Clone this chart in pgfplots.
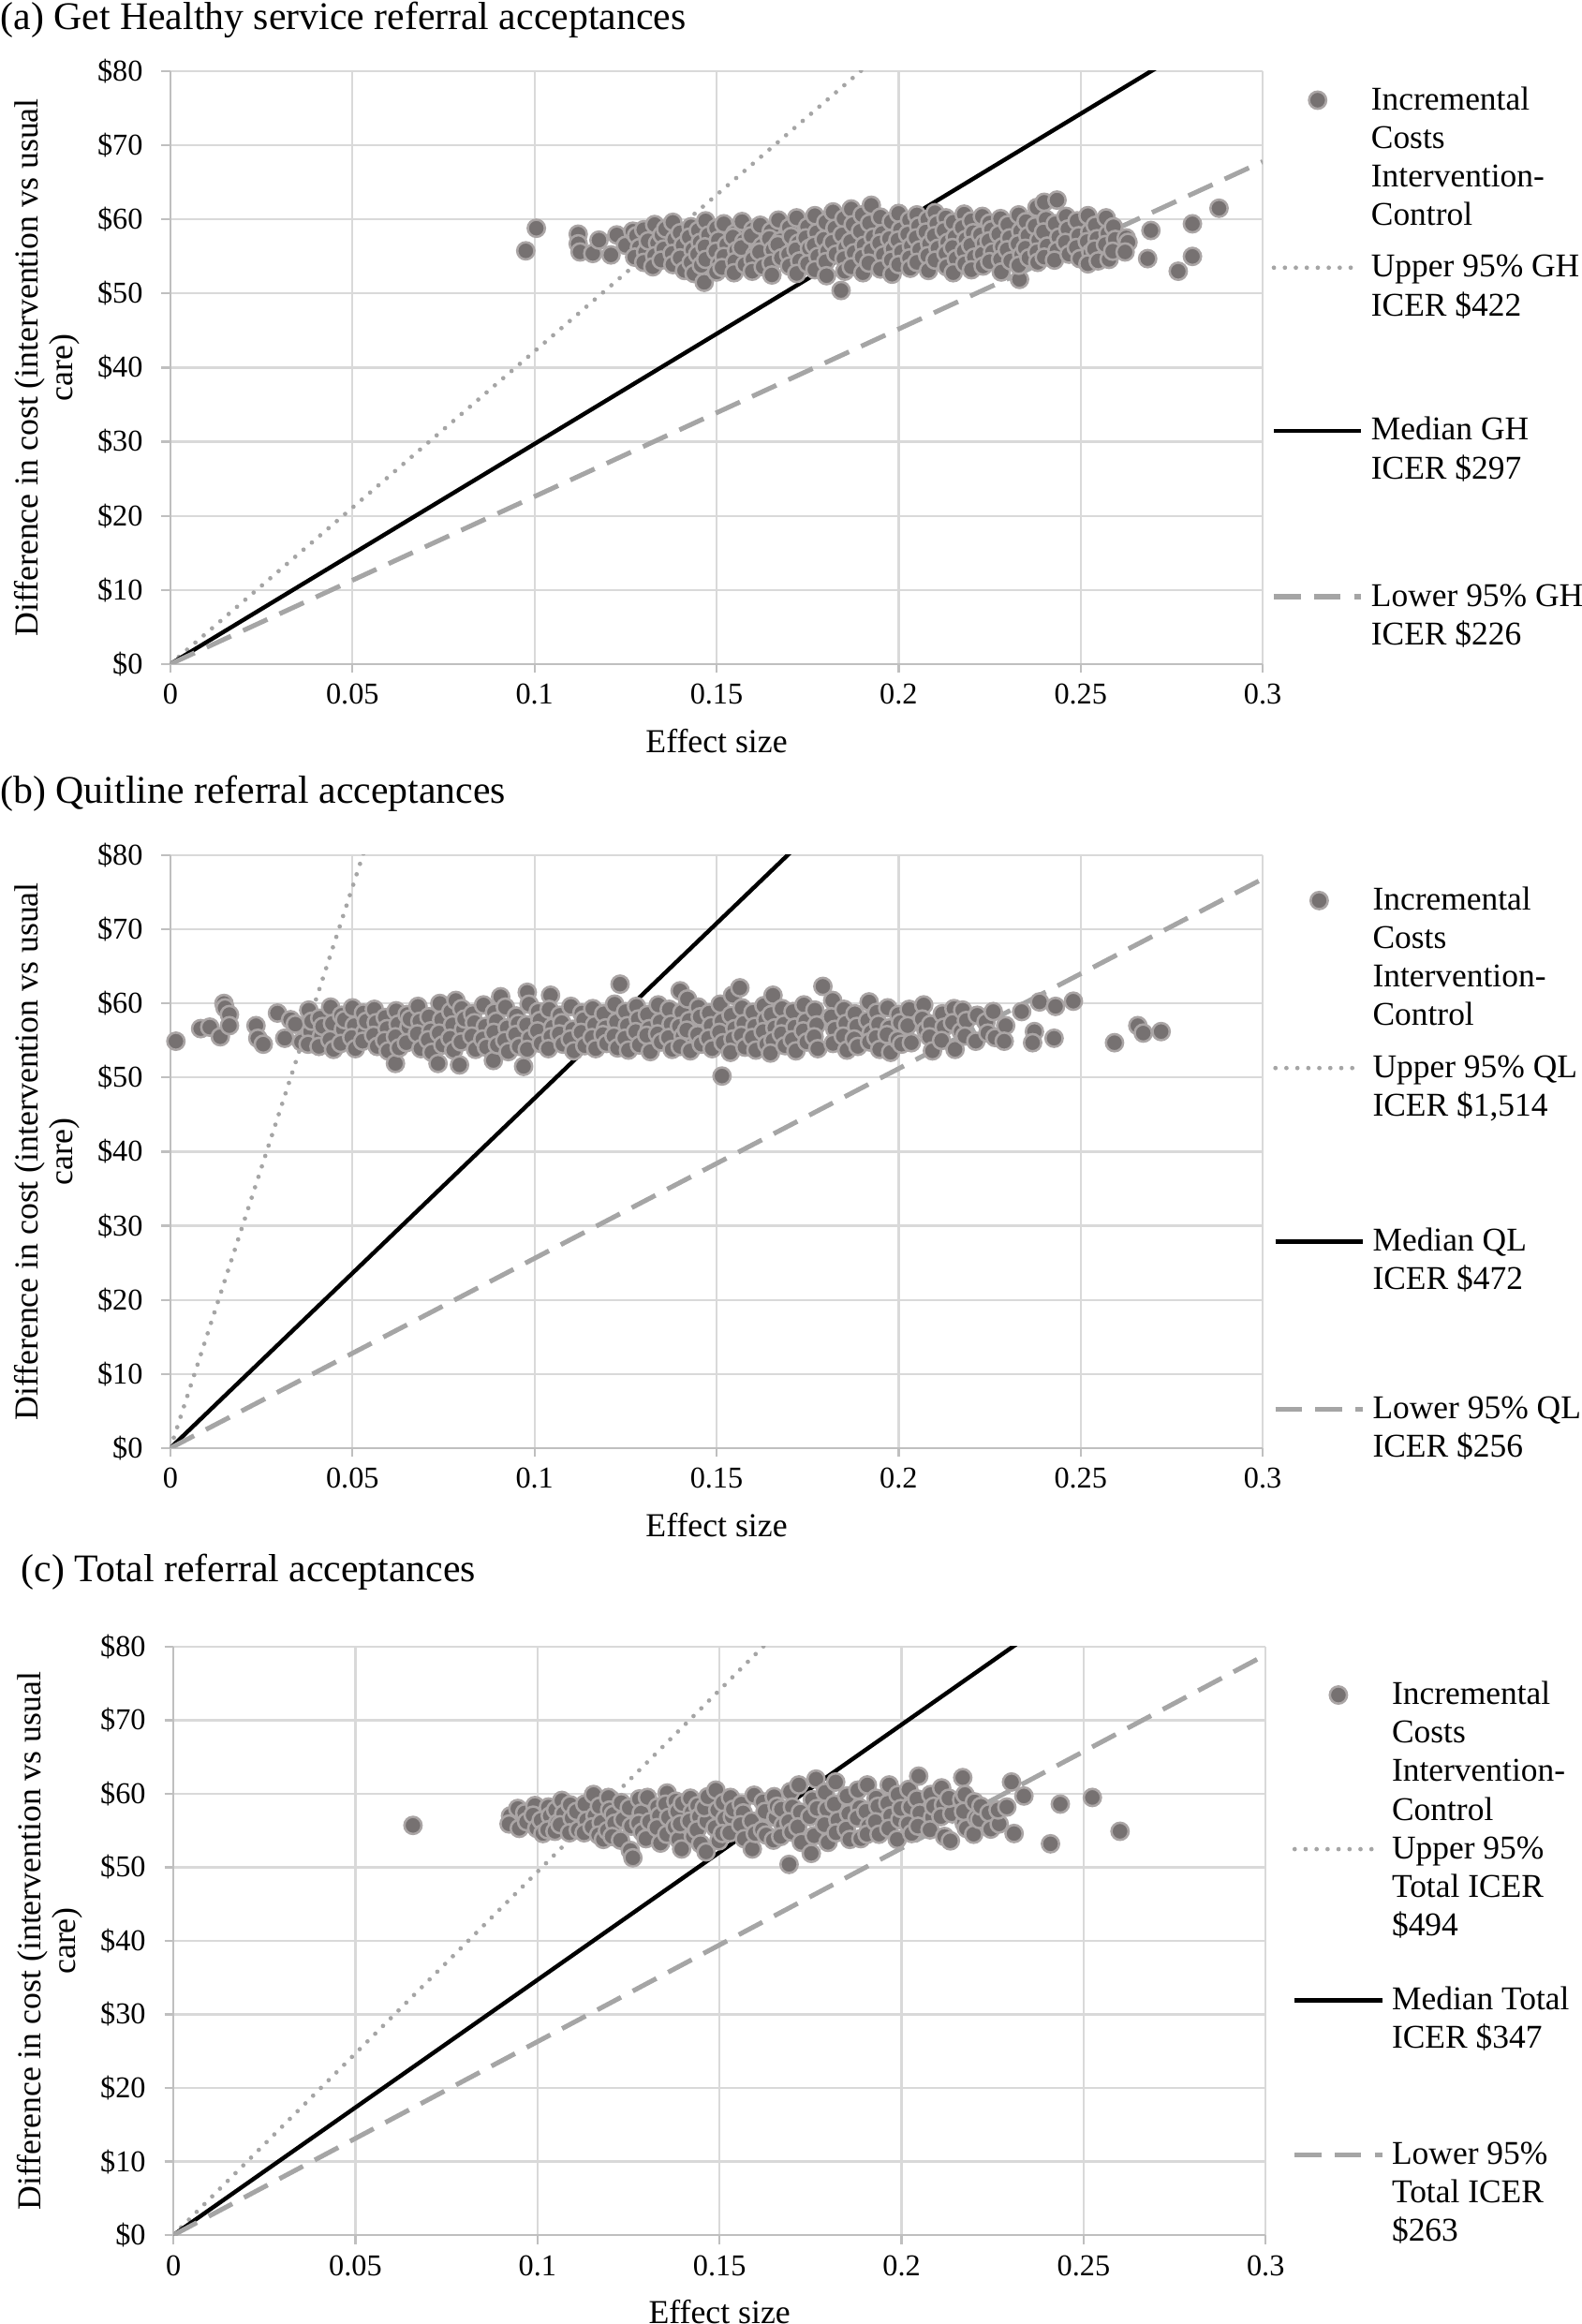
\documentclass[border=0pt]{standalone}
\usepackage{fontspec}
\setmainfont{Liberation Serif}
\usepackage{pgfplots}
\pgfplotsset{compat=1.18}

\definecolor{markfill}{RGB}{118,113,113}
\definecolor{markedge}{RGB}{170,165,165}
\definecolor{linegray}{RGB}{165,165,165}
\definecolor{gridgray}{RGB}{217,217,217}
\definecolor{axisgray}{RGB}{191,191,191}

% legend text block: lines split by \\, #2 = depth below the last line
\newcommand{\lgd}[2]{\begin{tabular}[t]{@{}l@{}}#1\rule[-#2]{0pt}{#2}\end{tabular}}

\pgfplotsset{
  icer/.style={
    scale only axis, width=368.5pt, height=200pt,
    xmin=0, xmax=0.3, ymin=0, ymax=80,
    axis x line*=bottom, axis y line*=left,
    axis line style={-, draw=axisgray, line width=0.7pt},
    tick align=outside, major tick length=3pt,
    tick style={draw=axisgray, line width=0.7pt},
    grid=major, grid style={draw=gridgray, line width=0.7pt},
    xtick={0,0.05,0.1,0.15,0.2,0.25,0.3},
    xticklabels={0,0.05,0.1,0.15,0.2,0.25,0.3},
    ytick={0,10,20,30,40,50,60,70,80},
    yticklabels={\$0,\$10,\$20,\$30,\$40,\$50,\$60,\$70,\$80},
    tick label style={font=\fontsize{10.2}{12}\selectfont},
    xticklabel style={yshift=-0.3pt},
    yticklabel style={xshift=-2.8pt},
    xlabel={Effect size},
    ylabel={Difference in cost (intervention vs usual\\care)},
    label style={font=\fontsize{11.3}{11.5}\selectfont},
    xlabel style={at={(axis description cs:0.5,-0.13)}, anchor=center},
    ylabel style={at={(axis description cs:-0.113,0.5)}, anchor=center, align=center},
    legend cell align=left,
    legend style={draw=none, fill=none, inner sep=0pt, outer sep=0pt,
      row sep=0pt, column sep=2.5pt, font=\fontsize{11.2}{13}\selectfont,
      nodes={inner sep=0pt, text depth=}, cells={anchor=base west}},
    legend image code/.code={\draw[mark repeat=2,mark phase=2,#1] plot coordinates {(0pt,0pt) (14.75pt,0pt) (29.5pt,0pt)};},
    legend image post style={yshift=3.2pt},
  },
  cloud/.style={only marks, mark=*, mark size=2.9pt,
    mark options={fill=markfill, draw=markedge, line width=0.8pt}},
  upper/.style={draw=linegray, line width=1.5pt, line cap=round, dash pattern=on 0pt off 3.7pt, no marks},
  median/.style={draw=black, line width=1.4pt, no marks},
  lower/.style={draw=linegray, line width=1.6pt, dash pattern=on 9pt off 4.5pt, no marks},
}

\begin{document}
\begin{tikzpicture}
\useasboundingbox (0pt,0pt) rectangle (533.5pt,-784pt);

% ---------------- (a) ----------------
\node[anchor=base west, inner sep=0pt, font=\fontsize{13.2}{15}\selectfont] at (0pt,-10pt) {(a) Get Healthy service referral acceptances};
\begin{axis}[icer, at={(57.5pt,-224pt)}, anchor=south west,
  legend style={at={(1.0081,0.9805)}, anchor=north west}]
\addplot[cloud] coordinates {
(0.0976,55.75) (0.1005,58.8) (0.112,58.0) (0.112,56.7) (0.1125,55.6) (0.116,55.4) (0.1177,57.2) (0.121,55.2) (0.1226,57.9) (0.125,56.5) (0.127,58.4)
(0.128,57.8) (0.1288,56.2) (0.1275,54.9)
(0.130,58.6) (0.1305,55.6) (0.1312,57.1) (0.130,54.2)
(0.133,59.3) (0.1338,56.8) (0.133,55.1) (0.1325,53.6)
(0.135,57.9) (0.1355,56.0) (0.1348,54.5) (0.136,58.7)
(0.138,59.6) (0.1385,57.3) (0.1378,55.4) (0.138,53.9)
(0.140,58.2) (0.1408,56.5) (0.140,54.8) (0.1412,53.1)
(0.143,59.0) (0.1425,57.6) (0.1435,55.9) (0.143,54.2) (0.1438,52.7)
(0.145,58.5) (0.1455,56.9) (0.1448,55.3) (0.1458,53.8)
(0.147,59.8) (0.1478,57.9) (0.1468,56.3) (0.147,54.6) (0.1466,51.5)
(0.150,58.8) (0.1505,57.2) (0.1498,55.7) (0.1508,54.0) (0.150,52.9)
(0.152,59.4) (0.1528,56.6) (0.152,55.0) (0.1515,53.5)
(0.155,58.1) (0.1545,57.6) (0.1555,55.8) (0.155,54.3) (0.1548,52.8)
(0.157,59.7) (0.1575,57.0) (0.1568,56.2) (0.1578,53.9)
(0.160,58.6) (0.1595,57.8) (0.1605,55.2) (0.160,54.6) (0.1598,53.0)
(0.162,59.2) (0.1625,56.4) (0.1618,55.6) (0.1628,53.6)
(0.165,58.4) (0.1645,57.4) (0.1655,55.9) (0.165,54.1) (0.1652,52.5)
(0.167,59.9) (0.1675,57.1) (0.1668,56.6) (0.1678,54.8)
(0.170,58.9) (0.1705,57.7) (0.1698,55.3) (0.170,53.7)
(0.172,60.2) (0.1725,56.8) (0.1718,55.9) (0.1728,54.4) (0.172,52.7)
(0.175,59.0) (0.1745,57.5) (0.1755,56.1) (0.175,54.0)
(0.177,60.5) (0.1775,58.2) (0.1768,56.5) (0.1778,55.0) (0.177,53.2)
(0.180,59.6) (0.1795,57.3) (0.1805,55.7) (0.180,54.3) (0.1802,52.4)
(0.182,61.0) (0.1825,58.8) (0.1818,56.9) (0.1828,55.3)
(0.185,60.1) (0.1845,57.9) (0.1855,56.2) (0.185,54.7) (0.1852,53.0) (0.1842,50.4)
(0.187,61.4) (0.1875,59.3) (0.1868,57.0) (0.1878,55.5) (0.187,53.6)
(0.190,60.6) (0.1895,58.4) (0.1905,56.5) (0.190,54.9) (0.1902,52.8)
(0.1925,61.9) (0.192,59.5) (0.193,57.6) (0.1925,55.8) (0.1918,54.1)
(0.195,60.3) (0.1955,58.1) (0.1948,56.8) (0.1958,55.2) (0.195,53.3)
(0.198,59.7) (0.1975,57.4) (0.1985,56.0) (0.198,54.5) (0.1982,52.6)
(0.200,60.8) (0.2005,58.6) (0.1998,57.2) (0.2008,55.6) (0.200,53.9)
(0.203,59.9) (0.2025,58.0) (0.2035,56.4) (0.203,54.8) (0.2032,53.4)
(0.205,60.6) (0.2055,59.1) (0.2048,57.5) (0.2058,55.9) (0.205,54.2)
(0.208,60.0) (0.2075,58.3) (0.2085,56.7) (0.208,55.1) (0.2082,53.1)
(0.210,60.9) (0.2105,59.4) (0.2098,57.8) (0.2108,56.1) (0.210,54.5)
(0.213,60.2) (0.2125,58.5) (0.2135,56.9) (0.213,55.4) (0.2132,53.6)
(0.215,59.6) (0.2155,57.6) (0.2148,56.2) (0.2158,54.7) (0.215,52.8)
(0.218,60.7) (0.2175,58.9) (0.2185,57.3) (0.218,55.7) (0.2182,54.0)
(0.220,59.8) (0.2205,58.2) (0.2198,56.5) (0.2208,54.9) (0.220,53.2)
(0.223,60.4) (0.2225,57.9) (0.2235,56.8) (0.223,55.3) (0.2232,53.7)
(0.225,59.5) (0.2255,58.6) (0.2248,57.1) (0.2258,55.6) (0.225,54.3)
(0.228,60.1) (0.2275,58.0) (0.2285,56.3) (0.228,54.6) (0.2282,52.9)
(0.230,59.3) (0.2305,57.5) (0.2298,55.9) (0.2308,54.4) (0.2332,51.9)
(0.233,60.6) (0.2335,58.4) (0.2328,56.7) (0.2338,55.2) (0.233,53.8)
(0.235,59.7) (0.2355,57.8) (0.2348,56.1) (0.2358,54.8)
(0.238,61.6) (0.2375,59.1) (0.2385,57.2) (0.238,55.6) (0.2382,54.2)
(0.240,62.3) (0.2405,60.0) (0.2398,58.3) (0.2408,56.4) (0.240,54.9)
(0.2435,62.6) (0.243,59.4) (0.244,57.6) (0.2435,55.8) (0.2428,54.5)
(0.246,60.4) (0.2465,58.7) (0.2458,56.9) (0.2468,55.3)
(0.249,59.8) (0.2495,57.8) (0.2488,56.2) (0.2498,54.7)
(0.252,60.5) (0.2525,58.3) (0.2518,57.0) (0.2528,55.5) (0.252,54.0)
(0.254,59.2) (0.2545,57.4) (0.2538,56.0) (0.2548,54.4)
(0.257,60.2) (0.2575,58.1) (0.2568,56.6) (0.2578,54.6)
(0.259,59.0) (0.2595,57.3) (0.2588,55.7)
(0.2625,57.5) (0.263,56.9) (0.2622,55.6)
(0.2693,58.5) (0.2684,54.7) (0.2807,59.4) (0.2807,55.0) (0.2768,53.0) (0.288,61.5)
};
\addlegendentry{\lgd{Incremental\\Costs\\Intervention-\\Control}{8.4pt}}
\addplot[upper] coordinates {(0,0) (0.3,126.6)};
\addlegendentry{\lgd{Upper 95\% GH\\ICER \$422}{32.9pt}}
\addplot[median] coordinates {(0,0) (0.3,89.1)};
\addlegendentry{\lgd{Median GH\\ICER \$297}{33.9pt}}
\addplot[lower] coordinates {(0,0) (0.3,67.8)};
\addlegendentry{\lgd{Lower 95\% GH\\ICER \$226}{3.9pt}}
\end{axis}

% ---------------- (b) ----------------
\node[anchor=base west, inner sep=0pt, font=\fontsize{13.2}{15}\selectfont] at (0pt,-271pt) {(b) Quitline referral acceptances};
\begin{axis}[icer, at={(57.5pt,-488.5pt)}, anchor=south west,
  legend style={at={(1.0095,0.953)}, anchor=north west}]
\addplot[cloud] coordinates {
(0.0015,54.9) (0.0083,56.6) (0.0108,56.8) (0.0137,55.5) (0.0147,60.0) (0.015,59.4) (0.0162,58.5) (0.0162,57.0)
(0.0235,57.0) (0.024,55.3) (0.0255,54.5) (0.0294,58.7) (0.0314,55.3) (0.033,57.8) (0.0343,57.2) (0.036,54.8)
(0.038,59.1) (0.0385,56.2) (0.0378,54.5) (0.0388,57.6)
(0.041,58.0) (0.0415,55.6) (0.0408,54.2) (0.0418,56.9)
(0.044,59.5) (0.0445,57.3) (0.0438,55.1) (0.0448,53.8)
(0.047,58.4) (0.0475,56.5) (0.0468,54.6) (0.0478,57.8)
(0.050,59.4) (0.0505,57.0) (0.0498,55.4) (0.0508,53.9)
(0.053,58.7) (0.0535,56.2) (0.0528,54.9) (0.0538,57.6)
(0.056,59.2) (0.0565,57.4) (0.0558,55.7) (0.0568,54.2)
(0.059,58.1) (0.0595,56.6) (0.0588,55.0) (0.0598,53.6) (0.0618,51.9)
(0.062,59.0) (0.0625,57.2) (0.0618,55.5) (0.0628,54.0)
(0.065,58.5) (0.0655,56.8) (0.0648,54.7) (0.0658,57.9)
(0.068,59.6) (0.0685,57.6) (0.0678,55.9) (0.0688,53.9)
(0.071,58.2) (0.0715,56.3) (0.0708,55.1) (0.0718,53.4) (0.0735,51.9)
(0.074,60.0) (0.0745,57.8) (0.0738,56.0) (0.0748,54.4)
(0.077,58.9) (0.0775,57.1) (0.0768,55.3) (0.0778,53.7) (0.0784,60.4) (0.0794,51.7)
(0.080,59.3) (0.0805,56.5) (0.0798,54.8) (0.0808,57.9)
(0.083,58.6) (0.0835,57.4) (0.0828,55.6) (0.0838,53.8)
(0.086,59.8) (0.0865,56.9) (0.0858,55.2) (0.0868,54.1) (0.0887,52.3)
(0.089,58.8) (0.0895,57.6) (0.0888,56.1) (0.0898,54.4) (0.0907,60.9)
(0.092,59.5) (0.0925,56.7) (0.0918,55.0) (0.0928,53.5)
(0.095,58.3) (0.0955,57.3) (0.0948,55.8) (0.0958,54.2) (0.097,51.5)
(0.098,61.5) (0.0985,59.9) (0.0978,57.1) (0.0988,55.3) (0.098,53.8)
(0.101,58.9) (0.1015,57.7) (0.1008,56.3) (0.1018,54.6)
(0.1044,61.1) (0.104,59.2) (0.105,56.8) (0.1045,55.5) (0.1038,53.9)
(0.107,58.4) (0.1075,57.4) (0.1068,55.9) (0.1078,54.5)
(0.110,59.6) (0.1105,56.5) (0.1098,55.2) (0.1108,53.6)
(0.113,58.7) (0.1135,57.8) (0.1128,56.1) (0.1138,54.3)
(0.116,59.3) (0.1165,57.1) (0.1158,55.4) (0.1168,53.9)
(0.119,58.6) (0.1195,56.7) (0.1188,55.8) (0.1198,54.6)
(0.122,59.9) (0.1225,57.5) (0.1218,55.6) (0.1228,54.0) (0.1235,62.6)
(0.125,58.9) (0.1255,57.0) (0.1248,55.3) (0.1258,53.7)
(0.128,59.6) (0.1285,57.9) (0.1278,56.2) (0.1288,54.4)
(0.131,58.5) (0.1315,56.6) (0.1308,55.7) (0.1318,53.5)
(0.134,59.8) (0.1345,57.5) (0.1338,55.9) (0.1348,54.8)
(0.137,59.2) (0.1375,57.2) (0.1368,55.4) (0.1378,53.8)
(0.140,61.7) (0.1405,58.8) (0.1398,56.9) (0.1408,55.6) (0.140,54.2)
(0.142,60.6) (0.1425,57.7) (0.1418,56.4) (0.1428,53.6)
(0.145,59.5) (0.1455,58.2) (0.1448,55.8) (0.1458,54.5)
(0.148,58.7) (0.1485,57.0) (0.1478,55.3) (0.1488,53.9) (0.1515,50.2)
(0.151,59.9) (0.1515,57.6) (0.1508,56.1) (0.1518,54.7)
(0.1544,61.1) (0.154,58.4) (0.155,56.6) (0.1545,55.2) (0.1538,53.4) (0.1564,62.1)
(0.157,59.4) (0.1575,57.3) (0.1568,55.7) (0.1578,54.1)
(0.160,58.8) (0.1605,56.9) (0.1598,55.4) (0.1608,53.7)
(0.163,59.7) (0.1635,57.8) (0.1628,56.2) (0.1638,54.5)
(0.1655,61.1) (0.165,58.5) (0.166,56.7) (0.1655,55.0) (0.1648,53.3)
(0.168,59.3) (0.1685,57.2) (0.1678,55.9) (0.1688,54.3)
(0.171,58.9) (0.1715,56.8) (0.1708,55.1) (0.1718,53.6)
(0.174,59.8) (0.1745,57.6) (0.1738,56.3) (0.1748,54.8)
(0.177,59.1) (0.1775,57.1) (0.1768,55.5) (0.1778,53.9) (0.1792,62.3)
(0.1819,60.4) (0.1815,58.2) (0.1825,56.5) (0.182,54.6)
(0.185,59.2) (0.1855,57.3) (0.1848,55.6) (0.1858,53.7)
(0.188,58.6) (0.1885,56.9) (0.1878,55.2) (0.1888,54.2)
(0.1919,60.2) (0.1915,57.7) (0.1925,56.1) (0.192,54.8)
(0.194,58.8) (0.1945,57.2) (0.1938,55.4) (0.1948,53.8)
(0.197,59.4) (0.1975,56.7) (0.1968,55.8) (0.1978,53.4)
(0.200,58.5) (0.2005,57.4) (0.1998,55.1) (0.2008,54.5)
(0.2029,59.2) (0.2025,57.0) (0.2035,54.7)
(0.2069,59.8) (0.2065,57.9) (0.2075,56.4)
(0.2088,57.2) (0.2085,55.5) (0.2093,53.6)
(0.212,58.6) (0.2125,56.8) (0.2118,55.0)
(0.2152,59.3) (0.2148,57.4) (0.2155,53.8)
(0.2176,59.1) (0.2172,56.2) (0.2186,57.7) (0.2182,55.6)
(0.2216,58.4) (0.2212,54.9) (0.224,57.5) (0.2245,56.0)
(0.226,58.9) (0.2265,55.4) (0.2294,57.0) (0.229,54.9)
(0.2338,58.9) (0.2373,56.2) (0.2368,54.7) (0.2387,60.2) (0.2427,55.3) (0.2431,59.6) (0.248,60.3)
(0.2593,54.7) (0.2657,57.0) (0.2672,56.0) (0.2721,56.2)
};
\addlegendentry{\lgd{Incremental\\Costs\\Intervention-\\Control}{8.4pt}}
\addplot[upper] coordinates {(0,0) (0.3,454.2)};
\addlegendentry{\lgd{Upper 95\% QL\\ICER \$1,514}{36.4pt}}
\addplot[median] coordinates {(0,0) (0.3,141.6)};
\addlegendentry{\lgd{Median QL\\ICER \$472}{34.4pt}}
\addplot[lower] coordinates {(0,0) (0.3,76.8)};
\addlegendentry{\lgd{Lower 95\% QL\\ICER \$256}{3.9pt}}
\end{axis}

% ---------------- (c) ----------------
\node[anchor=base west, inner sep=0pt, font=\fontsize{13.2}{15}\selectfont] at (7pt,-533.5pt) {(c) Total referral acceptances};
\begin{axis}[icer, height=198.5pt, at={(58.5pt,-754pt)}, anchor=south west,
  legend style={at={(1.0244,0.9476)}, anchor=north west}]
\addplot[cloud] coordinates {
(0.0658,55.7)
(0.0926,57.0) (0.0922,55.9) (0.0946,58.0) (0.095,55.3) (0.0965,57.4) (0.097,56.2)
(0.0993,58.4) (0.0988,57.1) (0.0998,55.3) (0.101,56.4) (0.1015,54.6)
(0.103,58.2) (0.1035,57.0) (0.1028,55.1) (0.105,57.8) (0.1055,56.0) (0.1048,54.9)
(0.1067,59.1) (0.1072,57.3) (0.1062,55.8) (0.109,58.5) (0.1095,56.7) (0.1088,54.7)
(0.1107,57.6) (0.1112,55.1) (0.113,58.6) (0.1135,56.4) (0.1128,54.7)
(0.1154,59.9) (0.1158,57.0) (0.1150,55.5) (0.117,58.3) (0.1175,56.1) (0.1168,54.4) (0.1181,53.8)
(0.1195,59.5) (0.1198,57.8) (0.1192,55.0) (0.1208,57.2) (0.1212,56.0) (0.1205,54.2)
(0.123,58.8) (0.1235,56.5) (0.1228,53.7) (0.1255,52.3) (0.1258,55.6) (0.1252,58.1) (0.1262,51.3)
(0.128,59.3) (0.1285,57.4) (0.1278,56.0) (0.1288,54.8)
(0.1302,59.5) (0.1308,56.2) (0.1298,53.9)
(0.133,58.2) (0.1335,57.0) (0.1328,55.4) (0.1338,53.3)
(0.1356,60.1) (0.1352,58.6) (0.136,56.8) (0.1355,54.5)
(0.138,59.0) (0.1385,57.6) (0.1378,55.5) (0.1388,53.8)
(0.1396,52.5) (0.1398,58.7) (0.1392,55.9)
(0.142,59.4) (0.1425,57.5) (0.1418,56.3) (0.1428,54.2)
(0.144,58.4) (0.1445,56.9) (0.1438,55.1) (0.1448,53.2)
(0.1463,52.1) (0.1465,56.3) (0.1458,58.1) (0.1468,59.6)
(0.149,60.5) (0.1495,57.8) (0.1488,55.4) (0.1498,53.6)
(0.151,58.8) (0.1515,56.6) (0.1508,54.6)
(0.153,59.5) (0.1535,56.9) (0.1528,54.7) (0.1538,57.9)
(0.156,58.6) (0.1565,57.4) (0.1558,55.8) (0.1568,53.9)
(0.159,52.5) (0.1595,59.8) (0.1588,56.3) (0.1598,54.6)
(0.162,58.9) (0.1625,57.6) (0.1618,55.1) (0.1628,54.4)
(0.165,59.6) (0.1655,56.8) (0.1648,53.7) (0.1658,58.3)
(0.167,57.9) (0.1675,55.7) (0.1668,54.2) (0.1691,50.4)
(0.1695,60.3) (0.170,58.2) (0.169,56.2) (0.1698,54.8)
(0.1718,61.2) (0.1722,57.5) (0.1715,55.5) (0.1725,53.4)
(0.1752,51.9) (0.1755,59.2) (0.1748,56.9)
(0.1765,62.0) (0.1768,58.0) (0.176,54.3)
(0.179,60.2) (0.1795,57.9) (0.1788,55.8) (0.1798,53.4)
(0.1819,61.6) (0.1815,58.6) (0.1825,56.4) (0.182,54.7)
(0.185,59.7) (0.1855,57.3) (0.1848,55.2) (0.1858,53.8)
(0.188,60.5) (0.1885,58.1) (0.1878,56.7) (0.1888,53.9)
(0.1906,61.2) (0.1902,57.6) (0.191,55.6) (0.1905,54.5)
(0.193,59.4) (0.1935,58.3) (0.1928,56.2) (0.1938,54.5)
(0.1966,61.2) (0.1962,58.7) (0.197,57.0) (0.1965,55.3)
(0.199,59.9) (0.1995,56.5) (0.1988,53.8) (0.1998,58.0)
(0.202,60.6) (0.2025,58.2) (0.2018,55.9) (0.2028,54.6)
(0.2047,62.4) (0.2042,59.3) (0.205,57.4) (0.2045,55.6)
(0.208,59.9) (0.2085,56.8) (0.2078,55.1) (0.2088,58.3)
(0.211,60.8) (0.2115,58.5) (0.2108,56.9) (0.2118,54.2)
(0.2134,53.6) (0.2138,57.3) (0.213,59.4)
(0.2168,62.2) (0.2165,59.2) (0.2172,56.0) (0.2174,59.9) (0.2178,55.3) (0.217,57.6)
(0.220,58.9) (0.2205,56.7) (0.2198,54.5) (0.2214,56.5) (0.2218,58.3)
(0.224,57.4) (0.2245,55.2) (0.2268,55.9) (0.2265,57.8)
(0.2289,58.2) (0.2302,61.6) (0.2309,54.6) (0.2336,59.7)
(0.2409,53.2) (0.2436,58.6) (0.2524,59.5) (0.26,54.9)
};
\addlegendentry{\lgd{Incremental\\Costs\\Intervention-\\Control}{3.9pt}}
\addplot[upper] coordinates {(0,0) (0.3,148.2)};
\addlegendentry{\lgd{Upper 95\%\\Total ICER\\\$494}{15.9pt}}
\addplot[median] coordinates {(0,0) (0.3,104.1)};
\addlegendentry{\lgd{Median Total\\ICER \$347}{29.9pt}}
\addplot[lower] coordinates {(0,0) (0.3,78.9)};
\addlegendentry{\lgd{Lower 95\%\\Total ICER\\\$263}{3.9pt}}
\end{axis}
\end{tikzpicture}
\end{document}
